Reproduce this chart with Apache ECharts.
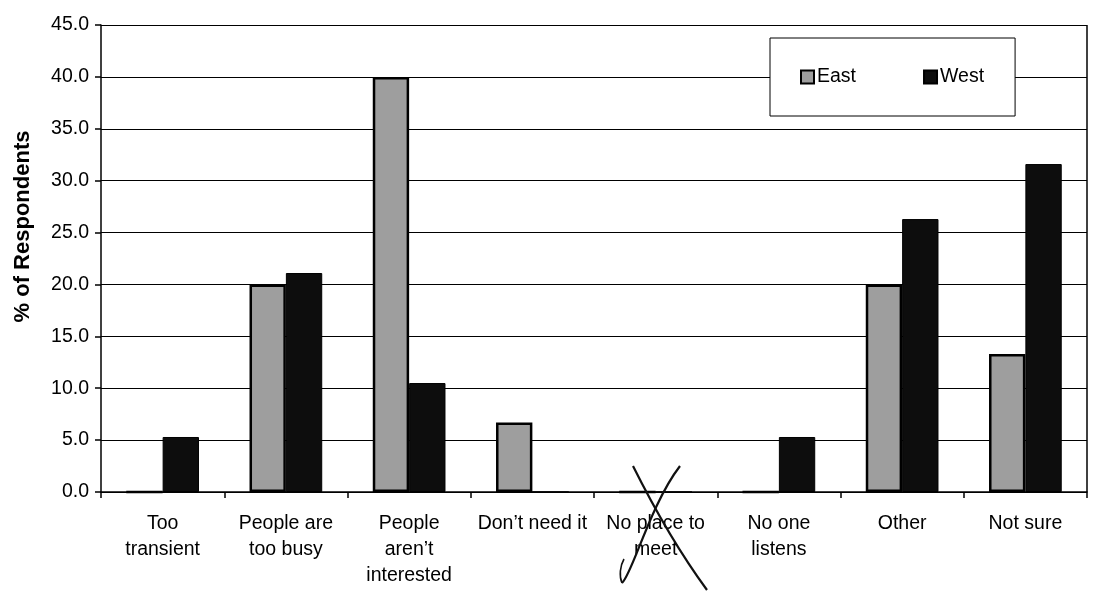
<!DOCTYPE html>
<html>
<head>
<meta charset="utf-8">
<script src="https://cdn.jsdelivr.net/npm/echarts@6/dist/echarts.min.js"></script>
<style>
  html, body { margin: 0; padding: 0; background: #fff; }
  #chart { width: 1094px; height: 603px; }
</style>
</head>
<body>
<div id="chart"></div>
<script>
// Reasons given, share of respondents by region (%)
const categories = [
  'Too\ntransient',
  'People are\ntoo busy',
  'People\naren\u2019t\ninterested',
  'Don\u2019t need it',
  'No place to\nmeet',
  'No one\nlistens',
  'Other',
  'Not sure'
];
const eastValues = [0, 20.0, 40.0, 6.7, 0, 0, 20.0, 13.3];
const westValues = [5.3, 21.1, 10.5, 0, 0, 5.3, 26.3, 31.6];
const seriesNames = ['East', 'West'];

const FONT = 'Liberation Sans, Arial, sans-serif';

const chart = echarts.init(document.getElementById('chart'), null, { renderer: 'canvas' });

chart.setOption({
  animation: false,
  backgroundColor: '#fff',
  textStyle: { fontFamily: FONT, color: '#000' },
  grid: {
    left: 101, right: 7, top: 25, bottom: 111,
    containLabel: false,
    outerBoundsMode: 'none'
  },
  legend: {
    data: seriesNames,
    icon: 'rect',
    left: 770,
    top: 38,
    orient: 'horizontal',
    padding: [29, 31, 29, 30],
    itemGap: 67,
    itemWidth: 13,
    itemHeight: 13,
    borderColor: '#000',
    borderWidth: 1,
    backgroundColor: '#fff',
    textStyle: { fontFamily: FONT, fontSize: 19.5, color: '#000', padding: [0, 0, 0, -2] }
  },
  xAxis: {
    type: 'category',
    data: categories,
    axisLine: { lineStyle: { color: '#000', width: 1.5 } },
    axisTick: { show: true, length: 6, lineStyle: { color: '#000', width: 1.5 } },
    axisLabel: {
      fontFamily: FONT, fontSize: 19.5, color: '#000',
      lineHeight: 26, margin: 19, interval: 0
    },
    splitLine: { show: false }
  },
  yAxis: {
    type: 'value',
    min: 0, max: 45, interval: 5,
    name: '% of Respondents',
    nameLocation: 'middle',
    nameGap: 67,
    nameRotate: 90,
    nameTextStyle: {
      fontFamily: FONT, fontSize: 22, fontWeight: 'bold', color: '#000',
      padding: [0, 0, 0, 64]
    },
    axisLine: { show: true, lineStyle: { color: '#000', width: 1.5 } },
    axisTick: { show: true, length: 6, lineStyle: { color: '#000', width: 1.5 } },
    axisLabel: {
      fontFamily: FONT, fontSize: 19.5, color: '#000', margin: 12,
      formatter: v => v.toFixed(1)
    },
    splitLine: { show: true, lineStyle: { color: '#000', width: 1.2 } }
  },
  series: [
    {
      name: seriesNames[0],
      type: 'bar',
      data: eastValues,
      barGap: '0%',
      barCategoryGap: '41%',
      itemStyle: { color: '#9e9e9e', borderColor: '#000', borderWidth: 2.5 }
    },
    {
      name: seriesNames[1],
      type: 'bar',
      data: westValues,
      barGap: '0%',
      barCategoryGap: '41%',
      itemStyle: { color: '#0d0d0d', borderColor: '#000', borderWidth: 1 }
    }
  ],
  graphic: [
    // right edge of the plot frame
    {
      type: 'line',
      shape: { x1: 1087, y1: 25, x2: 1087, y2: 492 },
      style: { stroke: '#000', lineWidth: 1.5 },
      z: 10
    },
    // pen strokes crossing out a category label
    {
      type: 'bezierCurve',
      shape: { x1: 633, y1: 466, cpx1: 660, cpy1: 520, cpx2: 685, cpy2: 560, x2: 707, y2: 590 },
      style: { stroke: '#111', lineWidth: 2.2, fill: null },
      z: 20
    },
    {
      type: 'bezierCurve',
      shape: { x1: 680, y1: 466, cpx1: 650, cpy1: 505, cpx2: 632, cpy2: 575, x2: 622, y2: 583 },
      style: { stroke: '#111', lineWidth: 2.2, fill: null },
      z: 20
    },
    {
      type: 'bezierCurve',
      shape: { x1: 622, y1: 583, cpx1: 619, cpy1: 576, cpx2: 620, cpy2: 566, x2: 624, y2: 559 },
      style: { stroke: '#111', lineWidth: 1.6, fill: null },
      z: 20
    }
  ]
});
</script>
</body>
</html>
